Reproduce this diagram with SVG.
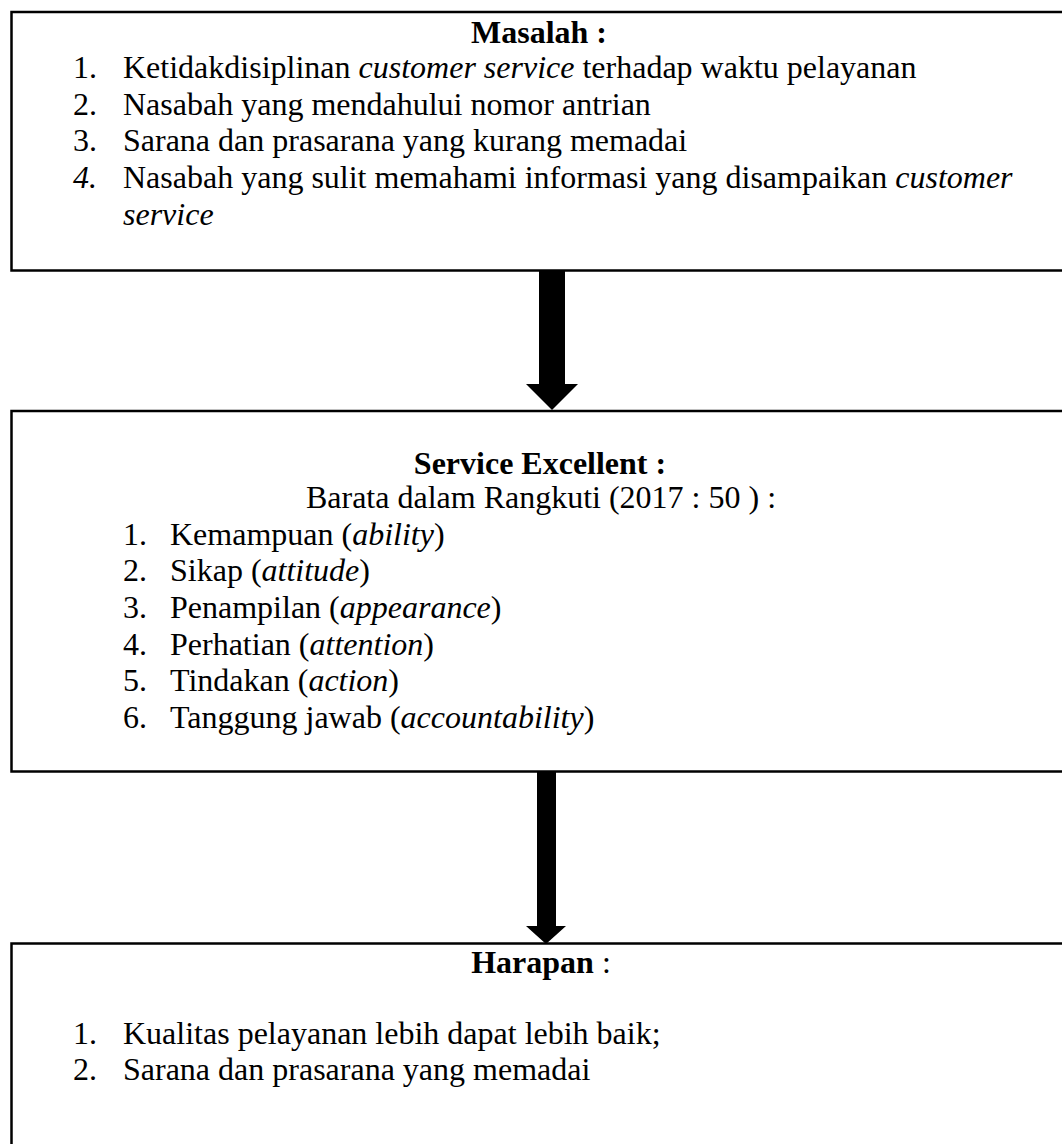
<svg xmlns="http://www.w3.org/2000/svg" width="1062" height="1144" viewBox="0 0 1062 1144">
<style>
text{font-family:"Liberation Serif","Times New Roman",serif;font-size:32px;fill:#000}
.b{font-weight:bold}
.i{font-style:italic}
.c{text-anchor:middle}
.box{fill:#fff;stroke:#000;stroke-width:2.5}
.arr{fill:#000;stroke:none}
</style>
<rect width="1062" height="1144" fill="#fff"/>
<g id="connectors">
<path class="arr" d="M539 271 H565 V384 H578 L552 410 L526 384 H539 Z"/>
<path class="arr" d="M537 770 H556 V926 H566 L546 944 L526 926 H537 Z"/>
</g>
<g id="masalah">
<rect class="box" x="11.5" y="12" width="1080" height="258.5"/>
<text class="b c" x="539" y="43">Masalah :</text>
<text x="73" y="78">1.</text>
<text x="123" y="78">Ketidakdisiplinan <tspan class="i">customer service</tspan> terhadap waktu pelayanan</text>
<text x="73" y="114.7">2.</text>
<text x="123" y="114.7">Nasabah yang mendahului nomor antrian</text>
<text x="73" y="151.4">3.</text>
<text x="123" y="151.4">Sarana dan prasarana yang kurang memadai</text>
<text class="i" x="73" y="188.1">4.</text>
<text x="123" y="188.1">Nasabah yang sulit memahami informasi yang disampaikan <tspan class="i">customer</tspan></text>
<text class="i" x="123" y="224.8">service</text>
</g>
<g id="service-excellent">
<rect class="box" x="11.5" y="411" width="1080" height="360.5"/>
<text class="b c" x="540" y="474">Service Excellent :</text>
<text class="c" x="541" y="508">Barata dalam Rangkuti (2017 : 50 ) :</text>
<text x="123" y="544.6">1.</text>
<text x="170" y="544.6">Kemampuan (<tspan class="i">ability</tspan>)</text>
<text x="123" y="581.3">2.</text>
<text x="170" y="581.3">Sikap (<tspan class="i">attitude</tspan>)</text>
<text x="123" y="618">3.</text>
<text x="170" y="618">Penampilan (<tspan class="i">appearance</tspan>)</text>
<text x="123" y="654.7">4.</text>
<text x="170" y="654.7">Perhatian (<tspan class="i">attention</tspan>)</text>
<text x="123" y="691.4">5.</text>
<text x="170" y="691.4">Tindakan (<tspan class="i">action</tspan>)</text>
<text x="123" y="728.1">6.</text>
<text x="170" y="728.1">Tanggung jawab (<tspan class="i">accountability</tspan>)</text>
</g>
<g id="harapan">
<rect class="box" x="11.5" y="943.5" width="1080" height="260"/>
<text class="c" x="541" y="973"><tspan class="b">Harapan</tspan> :</text>
<text x="73" y="1044">1.</text>
<text x="123" y="1044">Kualitas pelayanan lebih dapat lebih baik;</text>
<text x="73" y="1080">2.</text>
<text x="123" y="1080">Sarana dan prasarana yang memadai</text>
</g>
</svg>
